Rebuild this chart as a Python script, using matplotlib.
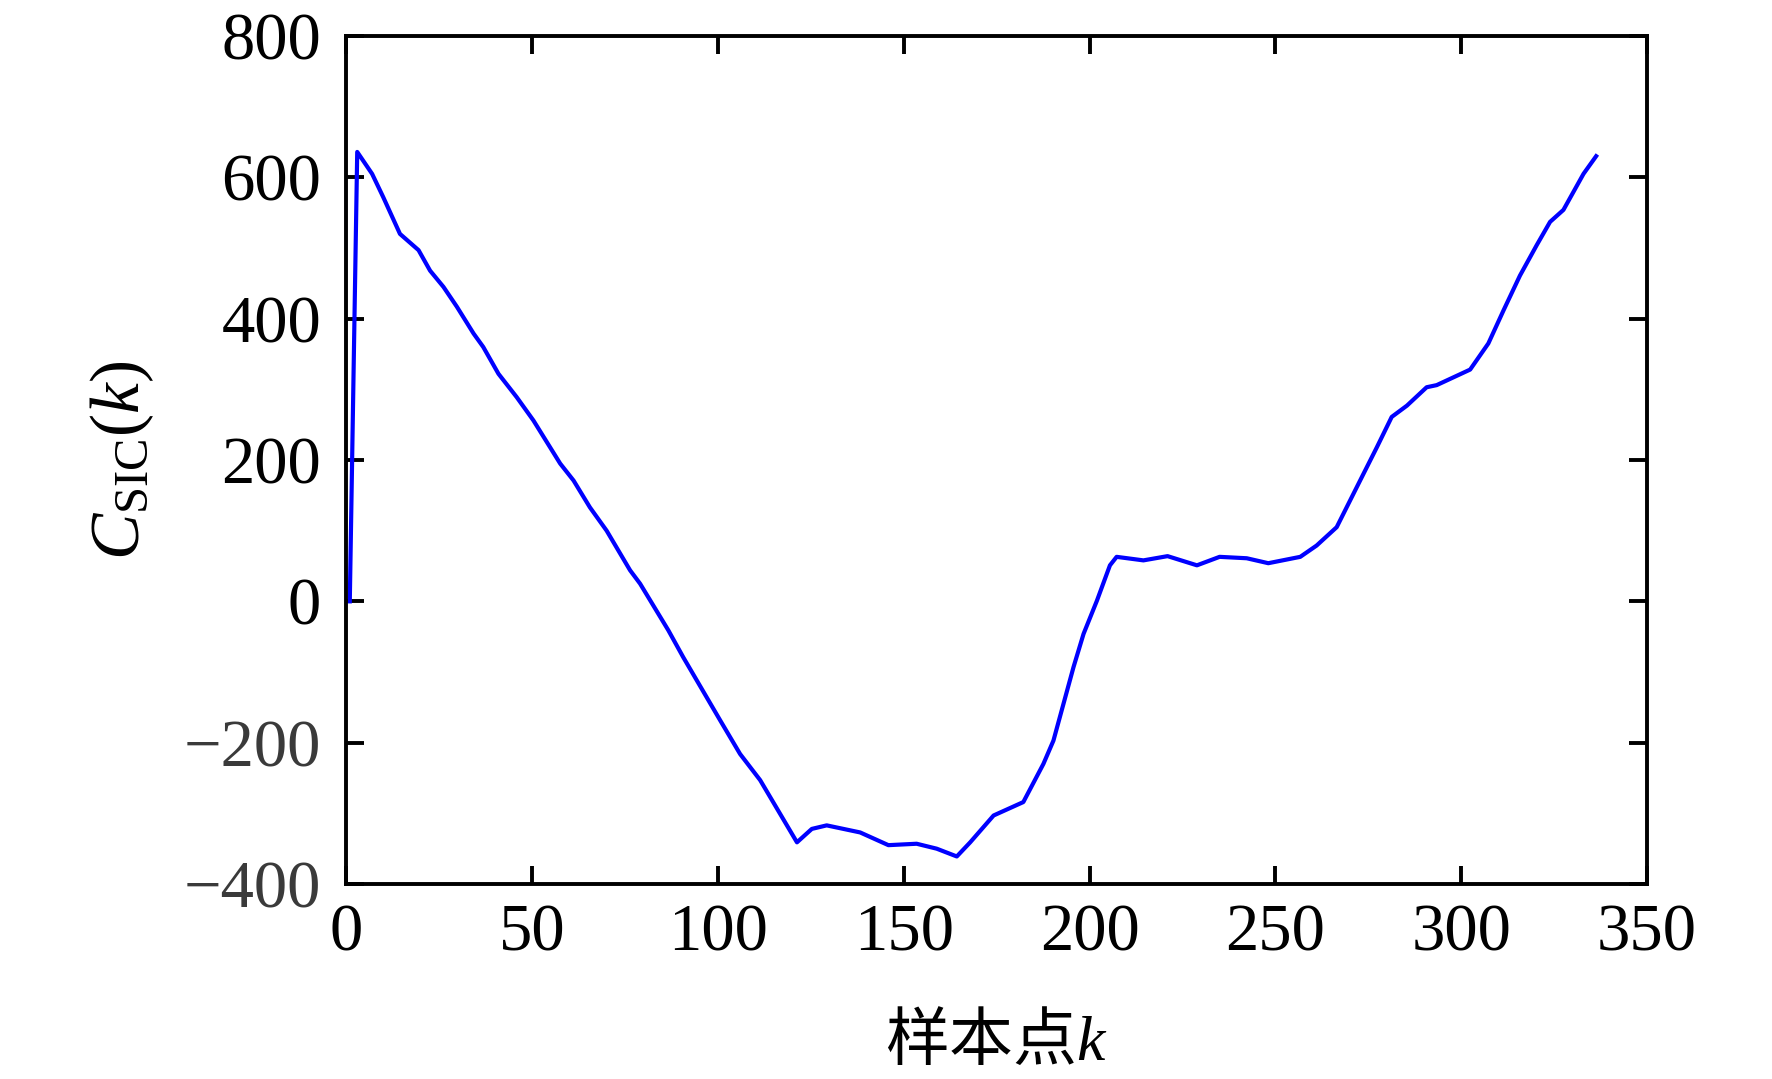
import matplotlib
matplotlib.use("Agg")
import matplotlib.pyplot as plt

# ---- data ----
k_vals = [1, 3, 7, 10, 14.5, 19.5, 22.6, 26.2, 29.8, 34.3, 36.9, 41, 45.9, 50.4,
          57.6, 61.2, 65.6, 70.1, 76.4, 79.1, 86.7, 90.7, 100.6, 106, 111.4, 121.3,
          125.3, 129.3, 138.3, 145.9, 153.5, 158.9, 164.3, 167.9, 174.2, 182.2,
          187.6, 190.3, 193, 195.7, 198.4, 202, 205.5, 207.3, 214.5, 221, 228.9,
          235, 242.3, 248.1, 256.7, 261.1, 266.5, 272.8, 277.3, 281.3, 285.4,
          290.7, 293.4, 302.4, 307.3, 311.4, 315.8, 320.3, 323.9, 327.5, 332.9, 336.3]
c_sic = [0, 636, 605, 572, 520, 497, 468, 445, 417, 379, 360, 322, 289, 256,
         195, 171, 133, 100, 44, 25, -41, -79, -168, -216, -253, -341,
         -322, -317, -327, -345, -343, -350, -361, -341, -303, -284,
         -230, -197, -145, -93, -46, 1, 51, 63, 58, 64, 51,
         63, 61, 54, 63, 79, 105, 171, 218, 261, 277,
         303, 306, 328, 365, 412, 461, 504, 537, 554, 605, 630]

x_ticks = [0, 50, 100, 150, 200, 250, 300, 350]
y_ticks = [-400, -200, 0, 200, 400, 600, 800]
x_label = "样本点$k$"
y_label = r"$C_{\mathrm{SIC}}(k)$"

plt.rcParams['font.family'] = ['Liberation Serif', 'Noto Sans CJK SC', 'DejaVu Sans']
plt.rcParams['mathtext.fontset'] = 'custom'
plt.rcParams['mathtext.rm'] = 'Liberation Serif'
plt.rcParams['mathtext.it'] = 'Liberation Serif:italic'
plt.rcParams['mathtext.bf'] = 'Liberation Serif:bold'

fig = plt.figure(figsize=(17.72, 10.79), dpi=100)
ax = fig.add_axes([0.1953, 0.1807, 0.7342, 0.7859])

ax.plot(k_vals, c_sic, color='#0000ff', lw=3.0, solid_joinstyle='round')

ax.set_xlim(0, 350)
ax.set_ylim(-400, 800)
ax.set_xticks(x_ticks)
ax.set_yticks(y_ticks)

for s in ax.spines.values():
    s.set_linewidth(2.8)
    s.set_color('black')

ax.tick_params(axis='both', which='major', direction='in', length=13, width=2.8,
               top=True, right=True, labelsize=48, colors='black')
ax.tick_params(axis='x', pad=14)
ax.tick_params(axis='y', pad=18)

for lbl in ax.get_yticklabels():
    if lbl.get_text().startswith('\u2212') or lbl.get_text().startswith('-'):
        lbl.set_color('#3a3a3a')

ax.set_xlabel(x_label, fontsize=46, family=['Noto Sans CJK SC', 'DejaVu Sans'], labelpad=32)
ax.set_ylabel(y_label, fontsize=50, labelpad=20)

fig.savefig("out.png", dpi=100, facecolor='white')
